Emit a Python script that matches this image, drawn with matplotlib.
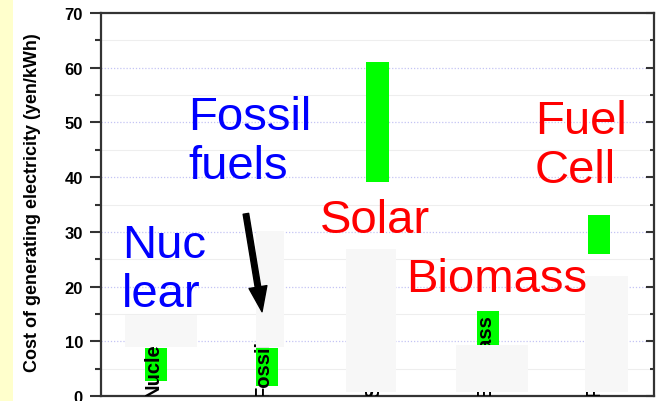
import matplotlib.pyplot as plt
import matplotlib.patches as mpatches
import numpy as np

plt.rcParams["font.family"] = ["Liberation Sans", "DejaVu Sans"]

# ==============================
# data
# ==============================
categories = ["Nuclear", "Fossil", "Solar", "Biomass", "Fuel Cell"]
cost_low = [2.7, 1.8, 39.1, 9.0, 26.0]
cost_high = [8.8, 8.8, 61.0, 15.5, 33.0]

# light grey masking boxes left over on the slide
box_left = [0.717, 1.901, 2.715, 3.71, 4.876]
box_right = [1.368, 2.155, 3.167, 4.36, 5.265]
box_low = [9.0, 9.0, 0.7, 0.7, 0.7]
box_high = [14.8, 30.2, 26.9, 9.3, 22.0]

# big slide labels (y = baseline of last line)
big_labels = ["Nuc\nlear", "Fossil\nfuels", "Solar", "Biomass", "Fuel\nCell"]
big_colors = ["#0000ff", "#0000ff", "#ff0000", "#ff0000", "#ff0000"]
big_x = [0.690, 1.287, 2.480, 3.258, 4.424]
big_y = [16.5, 39.9, 30.0, 19.2, 39.1]

# ==============================
# figure
# ==============================
fig = plt.figure(figsize=(6.64, 4.02), dpi=100)
fig.patches.append(mpatches.Rectangle((0, 0), 13 / 664, 1, transform=fig.transFigure,
                                      facecolor="#ffffcc", edgecolor="none", zorder=0))

ax = fig.add_axes([101 / 664, 5 / 402, 553 / 664, 383 / 402])
x = np.arange(1, len(categories) + 1)

ax.set_xlim(0.5, 5.5)
ax.set_ylim(0, 70)

# grid
for yv in range(10, 70, 10):
    ax.axhline(yv, color="#c4c4f4", linestyle=(0, (1, 1.5)), linewidth=0.9, zorder=0)
for yv in range(5, 70, 10):
    ax.axhline(yv, color="#eeeeee", linewidth=0.8, zorder=0)

# green cost ranges
heights = [h - l for l, h in zip(cost_low, cost_high)]
ax.bar(x, heights, bottom=cost_low, width=0.2, color="#00ff00", edgecolor="none", zorder=2)

# rotated category labels
for xi, name in zip(x, categories):
    ax.text(xi - 0.03, -0.1, name, rotation=90, ha="center", va="bottom",
            fontsize=14.5, fontweight="bold", color="black", zorder=3, clip_on=True)

# grey boxes
ax.bar(box_left, [h - l for l, h in zip(box_low, box_high)],
       width=[r - l for l, r in zip(box_left, box_right)], bottom=box_low,
       align="edge", color="#f7f7f7", edgecolor="none", zorder=4)

# big labels
for t, c, bx, by in zip(big_labels, big_colors, big_x, big_y):
    ax.text(bx, by, t, color=c, fontsize=34, ha="left", va="baseline",
            linespacing=1.15, zorder=5)

# arrow
ax.annotate("", xy=(1.956, 15.4), xytext=(1.81, 33.3),
            arrowprops=dict(facecolor="black", edgecolor="black", width=4,
                            headwidth=13, headlength=18), zorder=6)

# axes styling
for s in ax.spines.values():
    s.set_linewidth(1.6)
    s.set_color("#333333")
ax.set_xticks([])
ax.set_yticks(np.arange(0, 71, 10))
ax.set_yticks(np.arange(5, 70, 10), minor=True)
ax.tick_params(axis="y", which="major", direction="out", length=8, width=1.5,
               labelsize=12, pad=5, colors="#333333", labelcolor="black")
ax.tick_params(axis="y", which="minor", direction="out", length=4, width=1.5, colors="#333333")
for lab in ax.get_yticklabels():
    lab.set_fontweight("bold")

ax2 = ax.twinx()
ax2.set_ylim(0, 70)
ax2.set_yticks(np.arange(0, 71, 10))
ax2.set_yticks(np.arange(5, 70, 10), minor=True)
ax2.tick_params(axis="y", which="major", direction="in", length=6, width=1.5,
                labelright=False, colors="#333333")
ax2.tick_params(axis="y", which="minor", direction="in", length=3, width=1.5, colors="#333333")
for s in ax2.spines.values():
    s.set_visible(False)

fig.text(33 / 664, (402 - 203) / 402, "Cost of generating electricity (yen/kWh)",
         rotation=90, ha="center", va="center", fontsize=13, fontweight="bold")

plt.savefig("out.png", dpi=100)
